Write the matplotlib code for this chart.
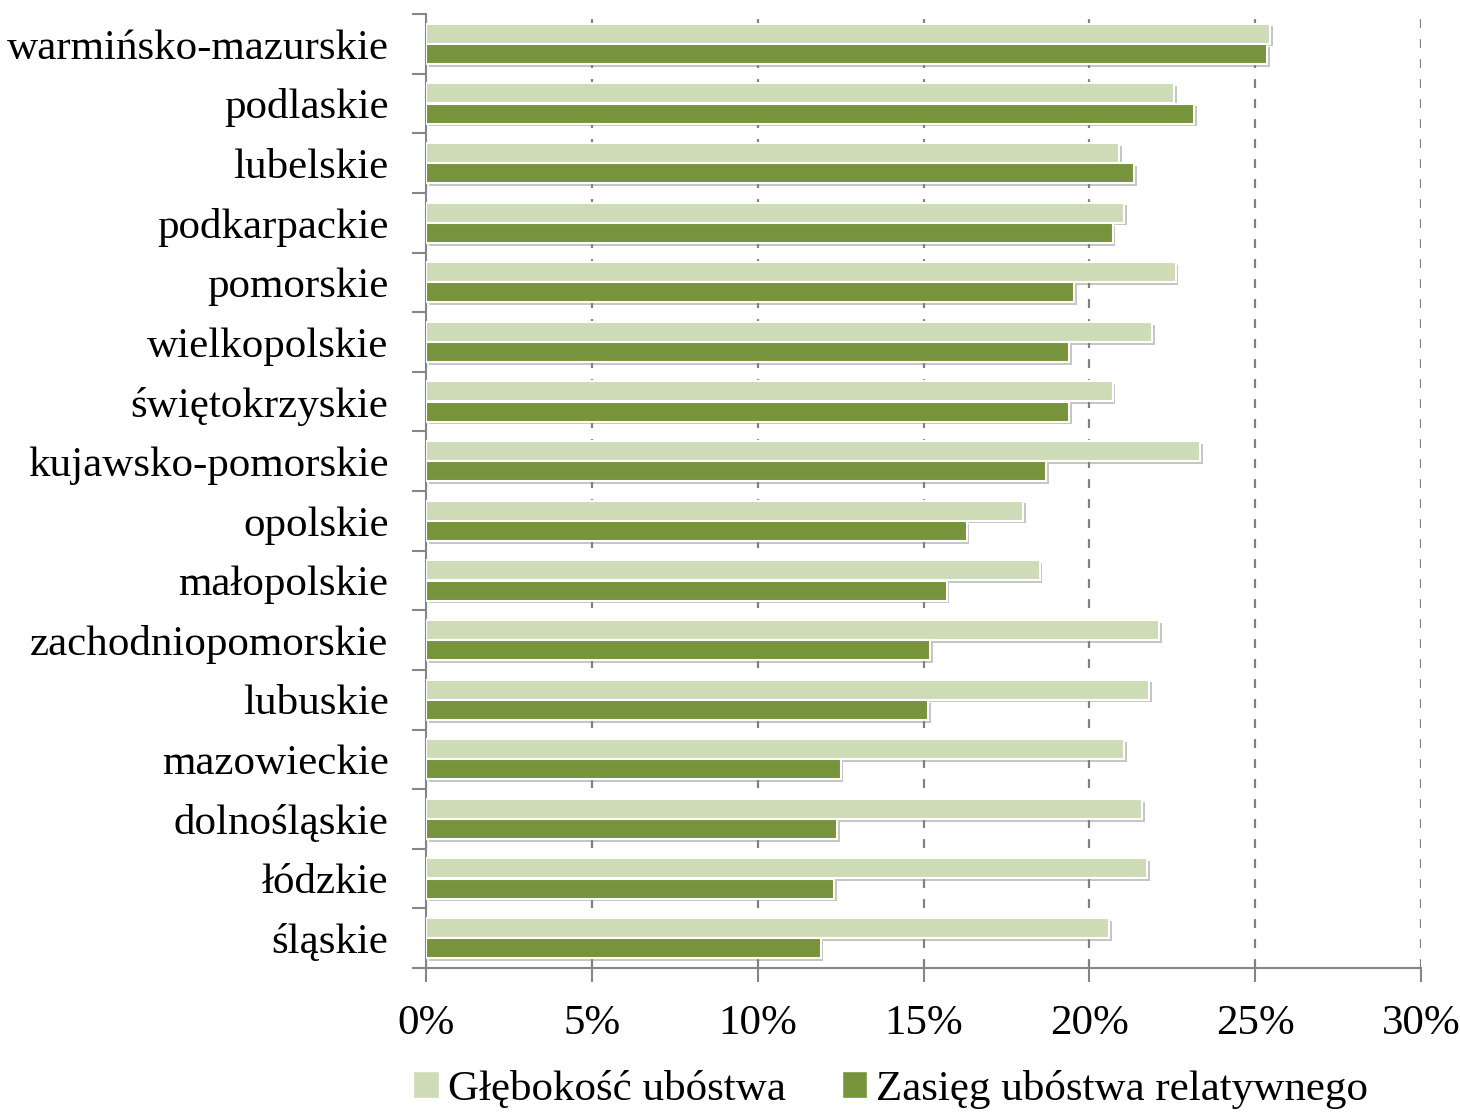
import numpy as np
import matplotlib
matplotlib.use("Agg")
import matplotlib.pyplot as plt
from matplotlib.patches import Patch
from matplotlib.ticker import FuncFormatter
import matplotlib.patheffects as pe

categories = ["warmińsko-mazurskie", "podlaskie", "lubelskie", "podkarpackie",
              "pomorskie", "wielkopolskie", "świętokrzyskie", "kujawsko-pomorskie",
              "opolskie", "małopolskie", "zachodniopomorskie", "lubuskie",
              "mazowieckie", "dolnośląskie", "łódzkie", "śląskie"]
glebokosc = [25.45, 22.55, 20.9, 21.05, 22.6, 21.9, 20.7, 23.35,
             18.0, 18.5, 22.1, 21.8, 21.05, 21.6, 21.75, 20.6]
zasieg = [25.35, 23.15, 21.35, 20.7, 19.55, 19.4, 19.4, 18.7,
          16.3, 15.7, 15.2, 15.15, 12.5, 12.4, 12.3, 11.9]
series_names = ["Głębokość ubóstwa", "Zasięg ubóstwa relatywnego"]
xticks = [0, 5, 10, 15, 20, 25, 30]

light = "#CEDBB7"
dark = "#77933C"
grey = "#868686"

plt.rcParams['font.family'] = ['Liberation Serif', 'DejaVu Serif']
fs = 31

fig = plt.figure(figsize=(14.6, 11.14), dpi=100)
ax = fig.add_axes([426/1460, 1 - 968/1114, (1421-426)/1460, (968-14)/1114])

n = len(categories)
y = np.arange(n)
h = 0.335
shadow = [pe.withSimplePatchShadow(offset=(2, -2), shadow_rgbFace='#808080', alpha=0.45)]
ax.barh(y - 0.17, glebokosc, height=h, color=light, edgecolor='white', linewidth=1.5,
        path_effects=shadow, zorder=3)
ax.barh(y + 0.17, zasieg, height=h, color=dark, edgecolor='white', linewidth=1.5,
        path_effects=shadow, zorder=3)

ax.set_ylim(n - 0.5, -0.5)
ax.set_xlim(0, 30)
ax.set_yticks(y)
ax.set_yticklabels(categories, fontsize=fs)
ax.set_yticks(np.arange(-0.5, n, 1), minor=True)
ax.tick_params(axis='y', which='major', length=0, pad=27)
ax.tick_params(axis='y', which='minor', length=10, width=1.5, color=grey, direction='out')

ax.set_xticks(xticks)
ax.xaxis.set_major_formatter(FuncFormatter(lambda v, p: f"{int(v)}%"))
ax.tick_params(axis='x', which='major', length=10, width=1.5, color=grey, direction='out',
               labelsize=fs, pad=16)

for s in ['top', 'right']:
    ax.spines[s].set_visible(False)
for s in ['left', 'bottom']:
    ax.spines[s].set_color(grey)
    ax.spines[s].set_linewidth(1.5)

ax.grid(axis='x', color='#808080', linestyle=(0, (4, 5)), linewidth=1.6, zorder=0)
ax.set_axisbelow(True)

handles = [Patch(facecolor=light, edgecolor='white'), Patch(facecolor=dark, edgecolor='white')]
fig.legend(handles, series_names, loc='center', bbox_to_anchor=(0.61, 0.022), ncol=2,
           frameon=False, fontsize=fs, handlelength=0.6, handleheight=0.6,
           handletextpad=0.2, columnspacing=1.3)

fig.savefig("out.png", dpi=100)
